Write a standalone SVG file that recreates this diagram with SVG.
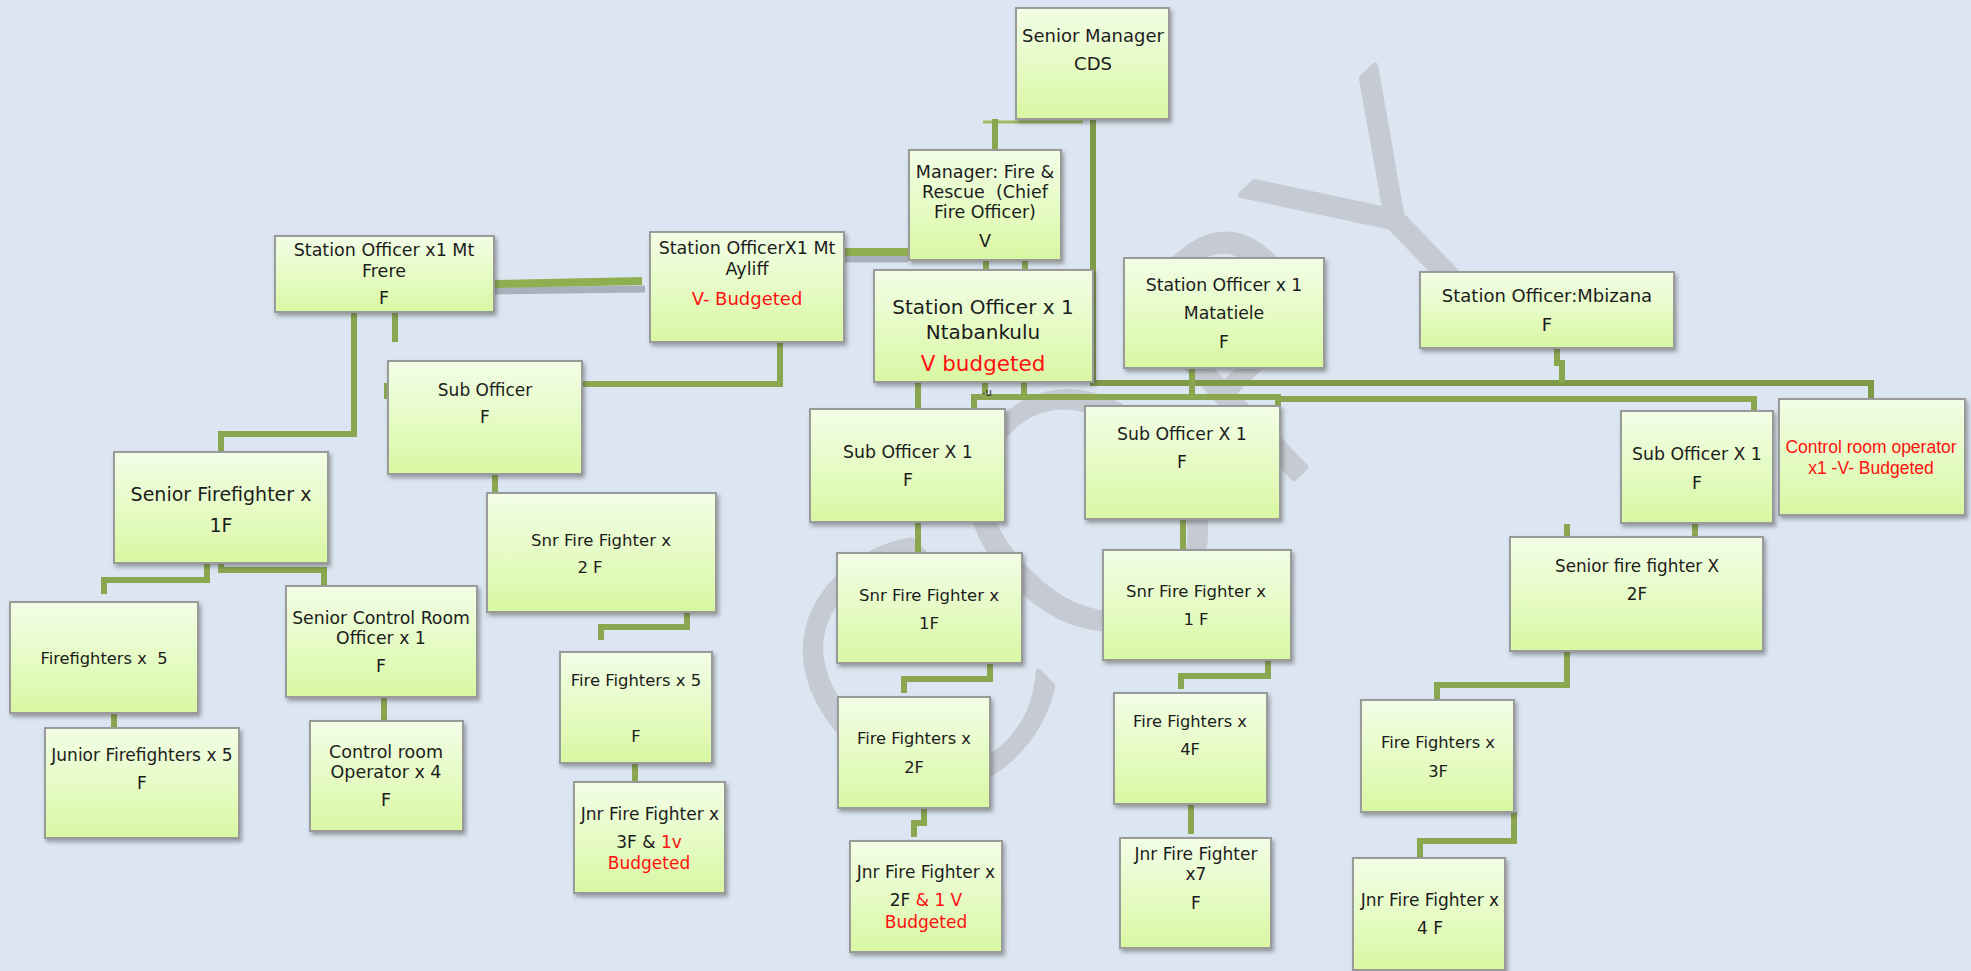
<svg xmlns="http://www.w3.org/2000/svg" width="1971" height="971" viewBox="0 0 1971 971">
  <defs>
    <linearGradient id="boxFill" x1="0" y1="0" x2="0" y2="1">
      <stop offset="0" stop-color="#f2fde6"/>
      <stop offset="0.5" stop-color="#e6fbc6"/>
      <stop offset="1" stop-color="#d9f7a2"/>
    </linearGradient>
    <filter id="boxShadow" x="-10%" y="-10%" width="130%" height="130%">
      <feDropShadow dx="2" dy="3" stdDeviation="2" flood-color="#3a3a3a" flood-opacity="0.45"/>
    </filter>
    <style>
      .box { fill: url(#boxFill); stroke: #9a9a9a; stroke-width: 2; filter: url(#boxShadow); }
      .t { font-family: "DejaVu Sans", "Liberation Sans", sans-serif; fill: #1c1c1c; text-anchor: middle; }
      .red { fill: #ff1010; }
      .cal { font-family: "Liberation Sans", "Noto Sans", sans-serif; }
      .wire { fill: none; stroke: #8aa64e; stroke-width: 6; stroke-linejoin: miter; }
      .wire-dark { fill: none; stroke: #7e9a47; stroke-width: 6; }
      .wire-thick { fill: none; stroke: #8fae50; stroke-width: 8; }
      .wire-shade { fill: none; stroke: #a9b0bb; stroke-width: 7; }
      .wire-thin { fill: none; stroke: #9dbb5c; stroke-width: 3; }
      .mark { font-family: "DejaVu Sans", "Liberation Sans", sans-serif; font-weight: 200; font-size: 330px;
              fill: #c6cad2; stroke: #c6cad2; stroke-width: 6; stroke-linejoin: round; text-anchor: middle; }
    </style>
  </defs>

  <rect width="1971" height="971" fill="#dce6f2"/>

  <!-- background watermark -->
  <text class="mark" transform="translate(1230,540) rotate(-44)" x="0" y="0">COPY</text>

  <!-- connectors -->
  <g id="connectors">
    <!-- shaded thick links between station officers -->
    <path class="wire-shade" d="M494,291 L645,289"/>
    <path class="wire-shade" d="M844,259 H908"/>
    <path class="wire-thick" d="M494,284 L642,281"/>
    <path class="wire-thick" d="M844,252 H908"/>

    <!-- senior manager to chief fire officer -->
    <path class="wire-thin" d="M983,122 H1083"/>
    <path class="wire" d="M995,119 V150"/>
    <!-- senior manager down to upper bus -->
    <path class="wire-dark" d="M1093,119 V383 H1871 V399"/>
    <!-- Mbizana to upper bus -->
    <path class="wire" d="M1557,348 V363 H1562 V383"/>

    <!-- chief fire officer to Ntabankulu -->
    <path class="wire" d="M986,260 V270"/>
    <path class="wire" d="M1025,260 V270"/>

    <!-- Ntabankulu stubs -->
    <path class="wire" d="M985,382 V393"/>
    <path class="wire" d="M1024,382 V397"/>
    <!-- Matatiele to lower bus -->
    <path class="wire" d="M1192,368 V397"/>
    <!-- lower bus -->
    <path class="wire" d="M974,409 V397 H1278 V406"/>
    <path class="wire" d="M1278,399 H1754 V411"/>

    <!-- Ntabankulu column -->
    <path class="wire" d="M918,382 V409"/>
    <path class="wire" d="M918,522 V553"/>
    <path class="wire" d="M990,663 V679 H904 V693"/>
    <path class="wire" d="M924,808 V823 H914 V837"/>

    <!-- Matatiele column -->
    <path class="wire" d="M1183,519 V550"/>
    <path class="wire" d="M1268,660 V676 H1181 V689"/>
    <path class="wire" d="M1191,804 V834"/>

    <!-- Mbizana column -->
    <path class="wire" d="M1695,523 V537"/>
    <path class="wire" d="M1567,524 V537"/>
    <path class="wire" d="M1567,651 V685 H1437 V700"/>
    <path class="wire" d="M1514,812 V841 H1420 V858"/>

    <!-- Mt Frere column -->
    <path class="wire" d="M354,312 V434 H221 V452"/>
    <path class="wire" d="M395,312 V342"/>
    <path class="wire" d="M387,383 V399"/>
    <path class="wire" d="M582,384 H780 V342"/>
    <path class="wire" d="M495,474 V493"/>
    <path class="wire" d="M207,563 V580 H104 V594"/>
    <path class="wire" d="M221,563 V570 H324 V586"/>
    <path class="wire" d="M687,612 V627 H601 V640"/>
    <path class="wire" d="M114,713 V728"/>
    <path class="wire" d="M384,697 V721"/>
    <path class="wire" d="M635,763 V782"/>
  </g>

  <text class="t" x="987" y="396" font-size="10">-u</text>

  <!-- top management -->
  <g id="senior-manager">
    <rect class="box" x="1016" y="8" width="153" height="111"/>
    <text class="t" font-size="18"><tspan x="1093" y="42">Senior Manager</tspan><tspan x="1093" y="70">CDS</tspan></text>
  </g>
  <g id="chief-fire-officer">
    <rect class="box" x="909" y="150" width="152" height="110"/>
    <text class="t" font-size="17.5"><tspan x="985" y="178">Manager: Fire &amp;</tspan><tspan x="985" y="198">Rescue&#160; (Chief</tspan><tspan x="985" y="218">Fire Officer)</tspan><tspan x="985" y="247">V</tspan></text>
  </g>

  <!-- station officers -->
  <g id="so-mt-frere">
    <rect class="box" x="275" y="236" width="219" height="76"/>
    <text class="t" font-size="17.5"><tspan x="384" y="256">Station Officer x1 Mt</tspan><tspan x="384" y="277">Frere</tspan><tspan x="384" y="304">F</tspan></text>
  </g>
  <g id="so-mt-ayliff">
    <rect class="box" x="650" y="232" width="194" height="110"/>
    <text class="t" font-size="17.5"><tspan x="747" y="254">Station OfficerX1 Mt</tspan><tspan x="747" y="275">Ayliff</tspan></text>
    <text class="t red" font-size="18" x="747" y="305">V- Budgeted</text>
  </g>
  <g id="so-ntabankulu">
    <rect class="box" x="874" y="270" width="219" height="112"/>
    <text class="t" font-size="20"><tspan x="983" y="314">Station Officer x 1</tspan><tspan x="983" y="339">Ntabankulu</tspan></text>
    <text class="t red" font-size="21.5" x="983" y="371">V budgeted</text>
  </g>
  <g id="so-matatiele">
    <rect class="box" x="1124" y="258" width="200" height="110"/>
    <text class="t" font-size="17.3"><tspan x="1224" y="291">Station Officer x 1</tspan><tspan x="1224" y="319">Matatiele</tspan><tspan x="1224" y="348">F</tspan></text>
  </g>
  <g id="so-mbizana">
    <rect class="box" x="1420" y="272" width="254" height="76"/>
    <text class="t" font-size="18"><tspan x="1547" y="302">Station Officer:Mbizana</tspan><tspan x="1547" y="331">F</tspan></text>
  </g>

  <!-- Mt Frere / Mt Ayliff branch -->
  <g id="sub-officer-ayliff">
    <rect class="box" x="388" y="361" width="194" height="113"/>
    <text class="t" font-size="17"><tspan x="485" y="396">Sub Officer</tspan><tspan x="485" y="423">F</tspan></text>
  </g>
  <g id="senior-firefighter-frere">
    <rect class="box" x="114" y="452" width="214" height="111"/>
    <text class="t" font-size="19"><tspan x="221" y="501">Senior Firefighter x</tspan><tspan x="221" y="532">1F</tspan></text>
  </g>
  <g id="snr-ff-ayliff">
    <rect class="box" x="487" y="493" width="229" height="119"/>
    <text class="t" font-size="16.5"><tspan x="601" y="546">Snr Fire Fighter x</tspan><tspan x="590" y="573">2 F</tspan></text>
  </g>
  <g id="firefighters-frere">
    <rect class="box" x="10" y="602" width="188" height="111"/>
    <text class="t" font-size="16.3" x="104" y="664">Firefighters x&#160; 5</text>
  </g>
  <g id="senior-control-room">
    <rect class="box" x="286" y="586" width="191" height="111"/>
    <text class="t" font-size="17.3"><tspan x="381" y="624">Senior Control Room</tspan><tspan x="381" y="644">Officer x 1</tspan><tspan x="381" y="672">F</tspan></text>
  </g>
  <g id="junior-firefighters-frere">
    <rect class="box" x="45" y="728" width="194" height="110"/>
    <text class="t" font-size="17"><tspan x="142" y="761">Junior Firefighters x 5</tspan><tspan x="142" y="789">F</tspan></text>
  </g>
  <g id="control-room-operators">
    <rect class="box" x="310" y="721" width="153" height="110"/>
    <text class="t" font-size="17.5"><tspan x="386" y="758">Control room</tspan><tspan x="386" y="778">Operator x 4</tspan><tspan x="386" y="806">F</tspan></text>
  </g>
  <g id="firefighters-ayliff">
    <rect class="box" x="560" y="652" width="152" height="111"/>
    <text class="t" font-size="16.4"><tspan x="636" y="686">Fire Fighters x 5</tspan><tspan x="636" y="742">F</tspan></text>
  </g>
  <g id="jnr-ff-ayliff">
    <rect class="box" x="574" y="782" width="151" height="111"/>
    <text class="t" font-size="17"><tspan x="650" y="820">Jnr Fire Fighter x</tspan><tspan x="649" y="848">3F &amp; <tspan class="red">1v</tspan></tspan></text>
    <text class="t red" font-size="17" x="649" y="869">Budgeted</text>
  </g>

  <!-- Ntabankulu branch -->
  <g id="sub-officer-ntabankulu">
    <rect class="box" x="810" y="409" width="195" height="113"/>
    <text class="t" font-size="17.3"><tspan x="908" y="458">Sub Officer X 1</tspan><tspan x="908" y="486">F</tspan></text>
  </g>
  <g id="snr-ff-ntabankulu">
    <rect class="box" x="837" y="553" width="185" height="110"/>
    <text class="t" font-size="16.5"><tspan x="929" y="601">Snr Fire Fighter x</tspan><tspan x="929" y="629">1F</tspan></text>
  </g>
  <g id="ff-ntabankulu">
    <rect class="box" x="838" y="697" width="152" height="111"/>
    <text class="t" font-size="16.3"><tspan x="914" y="744">Fire Fighters x</tspan><tspan x="914" y="773">2F</tspan></text>
  </g>
  <g id="jnr-ff-ntabankulu">
    <rect class="box" x="850" y="841" width="152" height="111"/>
    <text class="t" font-size="17"><tspan x="926" y="878">Jnr Fire Fighter x</tspan><tspan x="926" y="906">2F <tspan class="red">&amp; 1 V</tspan></tspan></text>
    <text class="t red" font-size="17" x="926" y="928">Budgeted</text>
  </g>

  <!-- Matatiele branch -->
  <g id="sub-officer-matatiele">
    <rect class="box" x="1085" y="406" width="195" height="113"/>
    <text class="t" font-size="17.3"><tspan x="1182" y="440">Sub Officer X 1</tspan><tspan x="1182" y="468">F</tspan></text>
  </g>
  <g id="snr-ff-matatiele">
    <rect class="box" x="1103" y="550" width="188" height="110"/>
    <text class="t" font-size="16.5"><tspan x="1196" y="597">Snr Fire Fighter x</tspan><tspan x="1196" y="625">1 F</tspan></text>
  </g>
  <g id="ff-matatiele">
    <rect class="box" x="1114" y="693" width="153" height="111"/>
    <text class="t" font-size="16.3"><tspan x="1190" y="727">Fire Fighters x</tspan><tspan x="1190" y="755">4F</tspan></text>
  </g>
  <g id="jnr-ff-matatiele">
    <rect class="box" x="1120" y="838" width="151" height="110"/>
    <text class="t" font-size="17"><tspan x="1196" y="860">Jnr Fire Fighter</tspan><tspan x="1196" y="880">x7</tspan><tspan x="1196" y="909">F</tspan></text>
  </g>

  <!-- Mbizana branch -->
  <g id="sub-officer-mbizana">
    <rect class="box" x="1621" y="411" width="152" height="112"/>
    <text class="t" font-size="17.3"><tspan x="1697" y="460">Sub Officer X 1</tspan><tspan x="1697" y="489">F</tspan></text>
  </g>
  <g id="control-room-operator-mbizana">
    <rect class="box" x="1779" y="399" width="186" height="116"/>
    <text class="t cal red" font-size="17.5"><tspan x="1871" y="453">Control room operator</tspan><tspan x="1871" y="474">x1 -V- Budgeted</tspan></text>
  </g>
  <g id="senior-ff-mbizana">
    <rect class="box" x="1510" y="537" width="253" height="114"/>
    <text class="t" font-size="16.8"><tspan x="1637" y="572">Senior fire fighter X</tspan><tspan x="1637" y="600">2F</tspan></text>
  </g>
  <g id="ff-mbizana">
    <rect class="box" x="1361" y="700" width="153" height="112"/>
    <text class="t" font-size="16.3"><tspan x="1438" y="748">Fire Fighters x</tspan><tspan x="1438" y="777">3F</tspan></text>
  </g>
  <g id="jnr-ff-mbizana">
    <rect class="box" x="1353" y="858" width="152" height="112"/>
    <text class="t" font-size="17"><tspan x="1430" y="906">Jnr Fire Fighter x</tspan><tspan x="1430" y="934">4 F</tspan></text>
  </g>
</svg>
